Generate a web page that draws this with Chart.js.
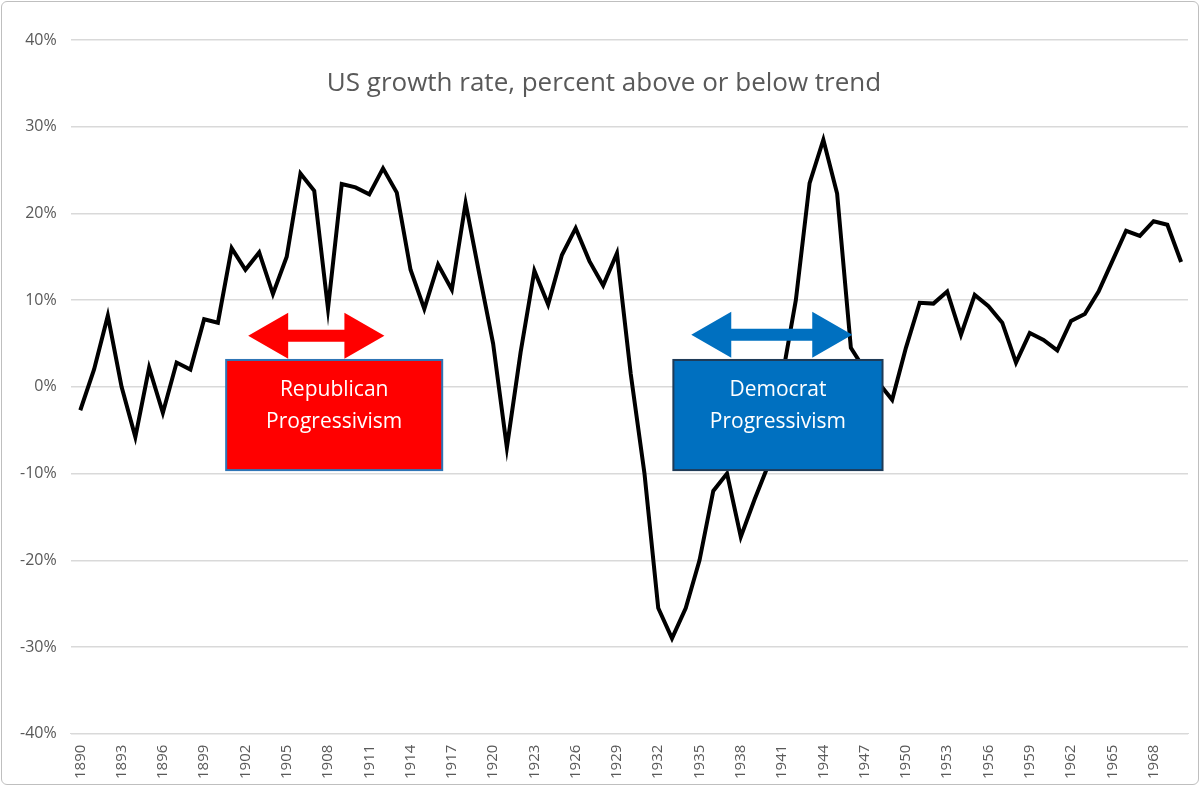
<!DOCTYPE html>
<html><head><meta charset="utf-8">
<script src="https://cdn.jsdelivr.net/npm/chart.js@4"></script>
<style>
html,body{margin:0;padding:0;background:#fff;}
#wrap{position:absolute;left:1px;top:1px;width:1198px;height:784px;border:1.5px solid #bfbfbf;border-radius:6px;box-sizing:border-box;}
canvas{display:block;}
</style></head><body>
<div id="wrap"><canvas id="c"></canvas></div>
<script>
const years = [];
for (let y = 1890; y <= 1970; y++) years.push(y);
const growth = [-2.7,2,8.2,0,-5.8,2.2,-3,2.8,2,7.8,
 7.4,16,13.5,15.5,10.7,15,24.6,22.6,9,23.4,
 23,22.2,25.2,22.4,13.5,9,14.1,11.2,21.2,13,
 5,-7,4,13.4,9.5,15.2,18.3,14.5,11.7,15.4,
 1.5,-10,-25.5,-29,-25.5,-20,-12,-10,-17.3,-13,
 -9,1,10,23.5,28.5,22.3,4.5,2,0.5,-1.5,
 4.5,9.7,9.6,11,6,10.6,9.3,7.4,2.8,6.2,
 5.4,4.2,7.6,8.4,11,14.5,18,17.4,19.1,18.7,14.4];
const title = 'US growth rate, percent above or below trend';
const annotations = [
  {lines:['Republican','Progressivism'], fill:'#ff0000', border:'#2e75b6', arrow:'#ff0000',
   x0:1900.6, x1:1916.3, y0:3.1, y1:-9.6, ax0:1902.2, ax1:1912.1, ay:5.9},
  {lines:['Democrat','Progressivism'], fill:'#0070c0', border:'#1f3b57', arrow:'#0070c0',
   x0:1933.1, x1:1948.3, y0:3.1, y1:-9.6, ax0:1934.4, ax1:1946.1, ay:6.0}
];
const deco = {
  id:'deco',
  afterDatasetsDraw(chart){
    const {ctx, scales:{x,y}, chartArea} = chart;
    ctx.save();
    ctx.fillStyle='#595959';
    ctx.font='26px "Open Sans", "Noto Sans", sans-serif';
    ctx.textAlign='center'; ctx.textBaseline='middle';
    ctx.fillText(title, 602, 82);
    for (const a of annotations){
      const L=x.getPixelForValue(a.x0), R=x.getPixelForValue(a.x1);
      const T=y.getPixelForValue(a.y0), B=y.getPixelForValue(a.y1);
      ctx.fillStyle=a.fill; ctx.fillRect(L,T,R-L,B-T);
      ctx.strokeStyle=a.border; ctx.lineWidth=2; ctx.strokeRect(L,T,R-L,B-T);
      ctx.fillStyle='#fff'; ctx.font='21px "Open Sans", "Noto Sans", sans-serif';
      ctx.fillText(a.lines[0], (L+R)/2, T+30);
      ctx.fillText(a.lines[1], (L+R)/2, T+62);
      const ax0=x.getPixelForValue(a.ax0), ax1=x.getPixelForValue(a.ax1), ay=y.getPixelForValue(a.ay);
      const hw=40, hh=23, sh=6;
      ctx.fillStyle=a.arrow;
      ctx.beginPath();
      ctx.moveTo(ax0,ay); ctx.lineTo(ax0+hw,ay-hh); ctx.lineTo(ax0+hw,ay-sh);
      ctx.lineTo(ax1-hw,ay-sh); ctx.lineTo(ax1-hw,ay-hh); ctx.lineTo(ax1,ay);
      ctx.lineTo(ax1-hw,ay+hh); ctx.lineTo(ax1-hw,ay+sh); ctx.lineTo(ax0+hw,ay+sh);
      ctx.lineTo(ax0+hw,ay+hh); ctx.closePath(); ctx.fill();
    }
    ctx.restore();
  }
};
new Chart(document.getElementById('c'), {
  type:'line',
  data:{datasets:[{data:years.map((yr,i)=>({x:yr,y:growth[i]})), borderColor:'#000', borderWidth:4, pointRadius:0, tension:0}]},
  options:{
    responsive:true, maintainAspectRatio:false, animation:false,
    layout:{padding:{left:4,right:10,top:38,bottom:2}},
    plugins:{legend:{display:false}, tooltip:{enabled:false}},
    scales:{
      x:{type:'linear', min:1889.3, max:1970.5,
        afterBuildTicks(s){ s.ticks = years.filter(v=>(v-1890)%3===0 && v<=1968).map(v=>({value:v})); },
        grid:{display:false}, border:{display:true,color:'#d9d9d9'},
        ticks:{maxRotation:90,minRotation:90,autoSkip:false,color:'#595959',font:{size:15,family:'"Open Sans", sans-serif'},callback:v=>String(v)}},
      y:{min:-40,max:40, ticks:{stepSize:10,color:'#595959',padding:14,font:{size:16,family:'"Open Sans", sans-serif'},callback:v=>v+'%'},
        grid:{color:'#d9d9d9',lineWidth:1.5,drawTicks:false}, border:{display:false}}
    }
  },
  plugins:[deco]
});
</script></body></html>
